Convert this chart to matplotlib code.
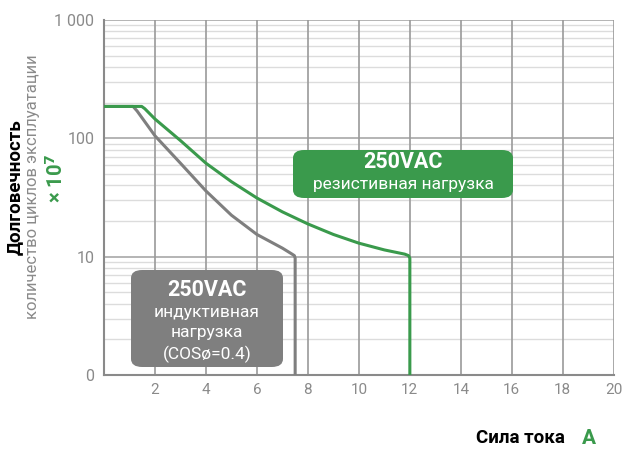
import numpy as np
import matplotlib.pyplot as plt
from matplotlib.patches import FancyBboxPatch
from matplotlib.ticker import FixedLocator, NullFormatter

plt.rcParams['font.family'] = ['Roboto', 'DejaVu Sans']

# inductive load (gray), resistive load (green)
ind_x = [0, 1.14, 1.3, 2, 3, 4, 5, 6, 7, 7.35, 7.47, 7.5, 7.5]
ind_y = [186, 186, 170, 105, 61.6, 35.9, 22.4, 15.4, 11.8, 10.6, 10.2, 9.7, 1]
res_x = [0, 1.48, 1.6, 2, 3, 4, 5, 6, 7, 8, 9, 10, 11, 11.8, 11.95, 12, 12]
res_y = [186, 186, 178, 145.6, 95.7, 61.6, 43, 31.3, 23.9, 18.9, 15.4, 13.0, 11.4,
         10.5, 10.2, 9.7, 1]

x_ticks = [2, 4, 6, 8, 10, 12, 14, 16, 18, 20]
y_ticks = [1, 10, 100, 1000]
y_labels = ['0', '10', '100', '1 000']

green = '#3a9a4c'
gray = '#7f7f7f'
tick_col = '#8a8a8a'

fig = plt.figure(figsize=(6.25, 4.5), dpi=100)
ax = fig.add_axes([0.1664, 0.1667, 0.8156, 0.7889])

ax.set_yscale('log')
ax.set_xlim(0, 20)
ax.set_ylim(1, 1000)

# grid
minor = [m * 10 ** e for e in range(0, 3) for m in range(2, 10)]
for v in minor:
    ax.axhline(v, color='#dcdcdc', lw=1, zorder=0)
for v in y_ticks[1:]:
    ax.axhline(v, color='#a8a8a8', lw=1.2, zorder=0)
for v in x_ticks:
    ax.axvline(v, color='#9a9a9a', lw=1.2, zorder=0)

ax.plot(ind_x, ind_y, color=gray, lw=2.2, zorder=3, solid_joinstyle='round')
ax.plot(res_x, res_y, color=green, lw=2.2, zorder=3, solid_joinstyle='round')

ax.xaxis.set_major_locator(FixedLocator(x_ticks))
ax.yaxis.set_major_locator(FixedLocator(y_ticks))
ax.set_yticklabels(y_labels)
ax.yaxis.set_minor_formatter(NullFormatter())
ax.tick_params(axis='both', which='both', length=0, colors=tick_col)
ax.tick_params(axis='x', labelsize=11, pad=6)
ax.tick_params(axis='y', labelsize=11.5, pad=7)

for s in ['top', 'right']:
    ax.spines[s].set_visible(False)
ax.spines['left'].set_color('#8a8a8a')
ax.spines['left'].set_linewidth(1.5)
ax.spines['bottom'].set_color('#8a8a8a')
ax.spines['bottom'].set_linewidth(1.5)

# boxes
def box(x0, y0, x1, y1, col):
    W, H = 625.0, 450.0
    p = FancyBboxPatch((x0 / W, 1 - y1 / H), (x1 - x0) / W, (y1 - y0) / H,
                       boxstyle='round,pad=0,rounding_size=0.018',
                       transform=fig.transFigure, facecolor=col,
                       edgecolor='none', zorder=5)
    fig.patches.append(p)

def ftext(x, y, s, **kw):
    fig.text(x / 625.0, 1 - y / 450.0, s, ha='center', va='center',
             color='white', zorder=6, **kw)

box(293, 150, 513, 198, green)
ftext(403, 162, '250VAC', fontsize=15.5, fontweight='bold')
ftext(403, 185, 'резистивная нагрузка', fontsize=12.5)

box(131, 270, 283, 367, gray)
ftext(207, 290, '250VAC', fontsize=15.5, fontweight='bold')
ftext(207, 313, 'индуктивная', fontsize=12.5)
ftext(207, 333, 'нагрузка', fontsize=12.5)
ftext(207, 354, '(COSø=0.4)', fontsize=12.5)

# axis titles
fig.text(15 / 625, 1 - 187 / 450, 'Долговечность', rotation=90,
         ha='center', va='center', fontsize=13.5, fontweight='bold', color='black')
fig.text(33 / 625, 1 - 187 / 450, 'количество циклов эксплуатации', rotation=90,
         ha='center', va='center', fontsize=12, color='#8a8a8a')
fig.text(56 / 625, 1 - 178 / 450, '× 10$^{\\mathbf{7}}$', rotation=90,
         ha='center', va='center', fontsize=14.5, fontweight='bold', color=green)

fig.text(565 / 625, 1 - 438 / 450, 'Сила тока', ha='right', va='center',
         fontsize=13.5, fontweight='bold', color='black')
fig.text(589 / 625, 1 - 438 / 450, 'A', ha='center', va='center',
         fontsize=15, fontweight='bold', color=green)

fig.savefig('out.png', dpi=100)
